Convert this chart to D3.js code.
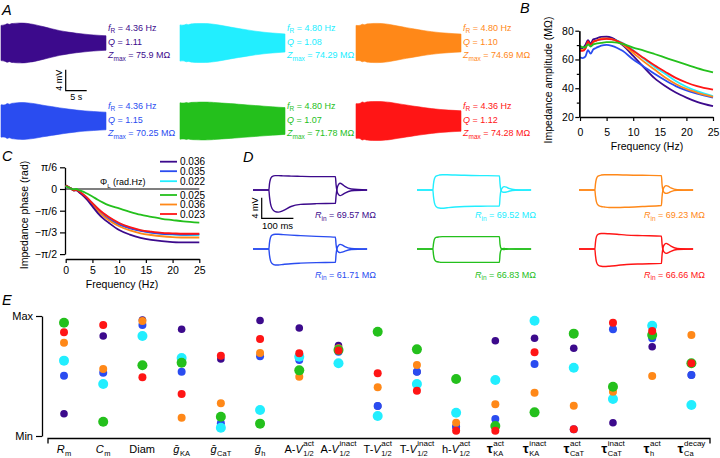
<!DOCTYPE html>
<html><head><meta charset="utf-8">
<script src="https://cdn.jsdelivr.net/npm/d3@7/dist/d3.min.js"></script>
<style>
html,body{margin:0;padding:0;background:#fff;}
svg{display:block;font-family:"Liberation Sans",Arial,Helvetica,sans-serif;}
</style></head><body>
<svg id="fig" width="720" height="458" viewBox="0 0 720 458"></svg>
<script>
// ===================== DATA =====================
const modelNames  = ["purple","cyan","orange","blue","green","red"];
const modelColors = ["#3c0a8c","#22eeff","#ff8818","#2a4cf0","#24c01c","#ff1515"];

// Panel A: resonance summary per model
const resFreq = ["4.36","4.80","4.80","4.36","4.80","4.36"];
const qFactor = ["1.11","1.08","1.10","1.15","1.07","1.12"];
const zMax    = ["75.9","74.29","74.69","70.25","71.78","74.28"];

// Panel B: impedance amplitude (MΩ) vs frequency (Hz)
const freqHz    = [0,0.5,1,1.5,2,2.5,3,4,5,6,7,8,10,12,14,16,18,20,22,25];
const ampPurple = [67,68,70,73.5,71,74,74.5,75.7,75.8,75,72.8,70,62.5,54.5,47,41.5,37,33.5,30.5,27.5];
const ampCyan   = [69,68,68.5,71.5,70,72,73,74,74.3,74.1,73.2,71.5,66.5,60.5,55,50,45,41,38,34.5];
const ampOrange = [67,66.5,67.5,71.5,69.5,72,73,74.4,74.7,74.2,72.8,70.5,64.5,58.5,53,47.5,43,39.5,37,34];
const ampBlue   = [61.5,61,62,66.5,64,67,68,69.7,70.2,69.5,68,66,60,55,50,45.5,41.5,38.5,36.2,33.5];
const ampGreen  = [69.5,68.5,68.5,70.5,69,70.5,71,71.5,72,72,71.7,70.8,68.3,66.2,63.8,61.3,58.8,56.4,54,51];
const ampRed    = [66,66,67.5,72.5,70,72.5,73,74,74.3,73.9,72.8,71.2,66,61,56,51.5,47.2,44,41.5,39];

// Panel C: impedance phase (rad) vs frequency (Hz)
const phasePurple = [0.08,0.05,0.01,-0.03,-0.03,-0.08,-0.13,-0.26,-0.42,-0.58,-0.71,-0.81,-0.99,-1.10,-1.18,-1.23,-1.26,-1.28,-1.29,-1.29];
const phaseCyan   = [0.07,0.04,0.01,-0.02,-0.02,-0.06,-0.10,-0.21,-0.34,-0.47,-0.59,-0.68,-0.83,-0.93,-1.00,-1.05,-1.08,-1.10,-1.11,-1.11];
const phaseOrange = [0.08,0.05,0.01,-0.03,-0.02,-0.07,-0.12,-0.25,-0.39,-0.53,-0.65,-0.75,-0.90,-1.00,-1.07,-1.11,-1.14,-1.16,-1.17,-1.17];
const phaseBlue   = [0.08,0.05,0.01,-0.03,-0.02,-0.07,-0.12,-0.24,-0.38,-0.52,-0.63,-0.72,-0.86,-0.95,-1.01,-1.05,-1.08,-1.09,-1.10,-1.09];
const phaseGreen  = [0.07,0.04,0.01,-0.01,0.00,-0.03,-0.05,-0.11,-0.18,-0.26,-0.33,-0.39,-0.47,-0.55,-0.62,-0.67,-0.72,-0.75,-0.78,-0.81];
const phaseRed    = [0.08,0.05,0.01,-0.03,-0.02,-0.06,-0.10,-0.21,-0.34,-0.47,-0.58,-0.67,-0.82,-0.92,-0.99,-1.03,-1.06,-1.07,-1.08,-1.08];
const phiL        = ["0.036","0.022","0.036","0.035","0.025","0.023"];   // per model
const phiLegendOrder = ["purple","blue","cyan","green","orange","red"];
const phaseTickLabels = ["π/6","0","−π/6","−π/3","−π/2"];

// Panel D: voltage responses (mV) to ± current steps, time in ms
const stepT      = [0,50,52,55,60,70,80,95,120,150,200,260,262,265,270,275,282,290,310,360];
const hypPurple  = [0,0,-1.3,-2.6,-3.6,-4.2,-4.3,-4.0,-3.2,-2.8,-2.65,-2.6,-1.2,0.2,1.1,1.3,1.1,0.7,0.2,0];
const depPurple  = [0,0,1.2,2.1,2.6,2.8,2.8,2.75,2.7,2.65,2.6,2.6,1.1,-0.2,-0.9,-1.1,-0.9,-0.6,-0.15,0];
const hypCyan    = [0,0,-1.3,-2.5,-3.2,-3.5,-3.55,-3.45,-3.3,-3.2,-3.15,-3.1,-1.4,-0.1,0.5,0.65,0.55,0.3,0.05,0];
const depCyan    = [0,0,1.2,2.2,2.7,2.9,2.95,2.95,2.9,2.85,2.8,2.75,1.2,0,-0.4,-0.45,-0.4,-0.25,-0.05,0];
const hypOrange  = [0,0,-1.2,-2.3,-2.9,-3.2,-3.3,-3.4,-3.4,-3.35,-3.2,-3.0,-1.3,0,0.7,0.85,0.7,0.4,0.05,0];
const depOrange  = [0,0,1.2,2.2,2.7,2.9,2.95,2.95,2.95,2.9,2.85,2.8,1.1,-0.1,-0.55,-0.65,-0.55,-0.3,-0.05,0];
const hypBlue    = [0,0,-1.2,-2.2,-2.8,-3.1,-3.1,-3.0,-2.85,-2.75,-2.65,-2.6,-1.1,0.1,0.7,0.9,0.75,0.45,0.1,0];
const depBlue    = [0,0,1.2,2.2,2.7,2.85,2.85,2.8,2.7,2.6,2.45,2.3,0.9,-0.2,-0.6,-0.7,-0.6,-0.4,-0.1,0];
const hypGreen   = [0,0,-1.1,-2.0,-2.4,-2.55,-2.6,-2.6,-2.6,-2.6,-2.6,-2.6,-1.0,-0.2,0.05,0.1,0.05,0.02,0,0];
const depGreen   = [0,0,1.0,1.9,2.25,2.35,2.4,2.4,2.4,2.4,2.4,2.4,0.9,0.15,-0.05,-0.1,-0.05,-0.02,0,0];
const hypRed     = [0,0,-1.3,-2.5,-3.1,-3.35,-3.4,-3.35,-3.2,-3.0,-2.9,-2.8,-1.2,0.2,0.9,1.1,0.9,0.55,0.1,0];
const depRed     = [0,0,1.3,2.4,2.85,3.0,3.0,2.95,2.85,2.7,2.6,2.5,1.0,-0.15,-0.7,-0.85,-0.7,-0.45,-0.1,0];
const inputRes   = ["69.57","69.52","69.23","61.71","66.83","66.66"];

// Panel E: normalized parameter values (0 = Min, 1 = Max)
const paramMain = ["R","C","Diam","ḡ","ḡ","ḡ","A-V","A-V","T-V","T-V","h-V","τ","τ","τ","τ","τ","τ"];
const paramSup  = ["","","","","","","act","inact","act","inact","act","act","inact","act","inact","act","decay"];
const paramSub  = ["m","m","","KA","CaT","h","1/2","1/2","1/2","1/2","1/2","KA","KA","CaT","CaT","h","Ca"];
const ePurple = [0.186,0.833,0.967,0.889,0.642,0.963,0.90,0.753,0.25,0.536,0.078,0.794,0.814,0.731,0.111,0.744,0.508];
const eCyan   = [0.628,0.433,0.833,0.65,0.069,0.217,0.661,0.606,0.167,0.433,0.194,0.467,0.961,0.569,0.308,0.919,0.258];
const eOrange = [0.778,0.558,0.958,0.153,0.272,0.692,0.494,0.731,0.406,0.592,0.111,0.264,0.361,0.253,0.369,0.50,0.842];
const eBlue   = [0.503,0.528,0.925,0.536,0.106,0.664,0.633,0.703,0.25,0.536,0.078,0.142,0.60,0.056,0.889,0.814,0.508];
const eGreen  = [0.944,0.119,0.589,0.611,0.161,0.103,0.547,0.717,0.869,0.722,0.475,0.083,0.197,0.853,0.411,0.842,0.606];
const eRed    = [0.864,0.925,0.489,0.35,0.669,0.808,0.689,0.713,0.522,0.378,0.044,0.044,0.697,0.056,0.944,0.875,0.606];

// ===================== RENDER =====================
const amps   = [ampPurple,ampCyan,ampOrange,ampBlue,ampGreen,ampRed];
const phases = [phasePurple,phaseCyan,phaseOrange,phaseBlue,phaseGreen,phaseRed];
const hyps   = [hypPurple,hypCyan,hypOrange,hypBlue,hypGreen,hypRed];
const deps   = [depPurple,depCyan,depOrange,depBlue,depGreen,depRed];
const evals  = [ePurple,eCyan,eOrange,eBlue,eGreen,eRed];

const svg = d3.select("#fig");

function rich(g, x, y, parts, fs, fill, anchor) {
  const t = g.append("text").attr("x", x).attr("y", y).attr("font-size", fs).attr("fill", fill || "#000");
  if (anchor) t.attr("text-anchor", anchor);
  let shift = 0;
  parts.forEach(p => {
    const s = t.append("tspan").text(p.t);
    const target = p.sub || 0;
    s.attr("dy", target - shift); shift = target;
    if (p.i) s.attr("font-style", "italic");
    if (p.fs) s.attr("font-size", p.fs);
  });
  return t;
}
function panelLetter(l, x, y) {
  svg.append("text").attr("x", x).attr("y", y).attr("font-size", 14.5).attr("font-style", "italic").text(l);
}

// ---------- Panel A ----------
panelLetter("A", 2, 15);
const aCols = [1, 180, 356], aW = 105;
const aRows = [43, 121];
const zapCurrent = 0.05; // nA
const aT = d3.scaleLinear().domain([0, 25]).range([0, aW]);       // linear chirp: t (s) = f (Hz)
const aV = d3.scaleLinear().domain([-4, 4]).range([21, -21]);      // mV
const aTextBase = [[30.5, 45, 58], [108.5, 123, 136]];
modelNames.forEach((m, i) => {
  const c = i % 3, r = Math.floor(i / 3);
  const g = svg.append("g").attr("transform", `translate(${aCols[c]},${aRows[r]})`);
  const area = d3.area()
    .x((d, j) => aT(freqHz[j]))
    .y0(d => aV(-d * zapCurrent))
    .y1(d => aV(d * zapCurrent))
    .curve(d3.curveMonotoneX);
  g.append("path").attr("d", area(amps[i])).attr("fill", modelColors[i]).attr("stroke", modelColors[i]).attr("stroke-width", 0.6);
  const tx = aCols[c] + aW + 2, yb = aTextBase[r];
  rich(svg, tx, yb[0], [{t: "f", i: 1}, {t: "R", sub: 2.5, fs: 6.5}, {t: " = " + resFreq[i] + " Hz"}], 9, modelColors[i]);
  rich(svg, tx, yb[1], [{t: "Q", i: 1}, {t: " = " + qFactor[i]}], 9, modelColors[i]);
  rich(svg, tx, yb[2], [{t: "Z", i: 1}, {t: "max", sub: 2.5, fs: 6.5}, {t: " = " + zMax[i] + " MΩ"}], 9, modelColors[i]);
});
// scale bar A
{
  const sx = 65.7, sy = 90.7;
  svg.append("path").attr("d", `M${sx},${sy + aV(4) - aV(0)}V${sy}H${sx + aT(5)}`).attr("fill", "none").attr("stroke", "#000").attr("stroke-width", 1.2);
  svg.append("text").attr("transform", `translate(${sx - 4},${sy - 10.5}) rotate(-90)`).attr("text-anchor", "middle").attr("font-size", 9).text("4 mV");
  svg.append("text").attr("x", sx + aT(5) / 2).attr("y", sy + 9.5).attr("text-anchor", "middle").attr("font-size", 9).text("5 s");
}

// ---------- Panel B ----------
panelLetter("B", 520, 13);
const bx = d3.scaleLinear().domain([0, 25]).range([580, 713]);
const by = d3.scaleLinear().domain([20, 80]).range([117, 30.7]);
const gB = svg.append("g");
const bLine = d3.line().x((d, j) => bx(freqHz[j])).y(d => by(d)).curve(d3.curveMonotoneX);
["cyan", "purple", "blue", "orange", "red", "green"].forEach(n => {
  const i = modelNames.indexOf(n);
  gB.append("path").attr("d", bLine(amps[i])).attr("fill", "none").attr("stroke", modelColors[i]).attr("stroke-width", 1.8);
});
const bYAxis = svg.append("g").attr("transform", "translate(579.3,0)")
  .call(d3.axisLeft(by).tickValues([20, 40, 60, 80]).tickSize(4).tickSizeOuter(0).tickPadding(1.5));
svg.append("g").attr("transform", "translate(579.3,0)")
  .call(d3.axisLeft(by).tickValues([30, 50, 70]).tickSize(2.5).tickSizeOuter(0).tickFormat(""));
const bXAxis = svg.append("g").attr("transform", "translate(0,117)")
  .call(d3.axisBottom(bx).tickValues([0, 5, 10, 15, 20, 25]).tickSize(4).tickSizeOuter(0).tickPadding(8));
svg.append("text").attr("x", 647).attr("y", 150).attr("text-anchor", "middle").attr("font-size", 10.5).text("Frequency (Hz)");
svg.append("text").attr("transform", "translate(551.5,80) rotate(-90)").attr("text-anchor", "middle").attr("font-size", 10.5).text("Impedance amplitude (MΩ)");

// ---------- Panel C ----------
panelLetter("C", 2, 161);
const cx = d3.scaleLinear().domain([0, 25]).range([65.7, 199.3]);
const cy = d3.scaleLinear().domain([-Math.PI / 2, Math.PI / 6]).range([254.1, 167.3]);
const cYAxis = svg.append("g").attr("transform", "translate(65,0)")
  .call(d3.axisLeft(cy).tickValues([Math.PI / 6, 0, -Math.PI / 6, -Math.PI / 3, -Math.PI / 2])
    .tickFormat((d, k) => phaseTickLabels[k]).tickSize(5).tickSizeOuter(0).tickPadding(3));
svg.append("line").attr("x1", 65).attr("x2", cx(25)).attr("y1", cy(0)).attr("y2", cy(0)).attr("stroke", "#000").attr("stroke-width", 1.2);
const cXAxis = svg.append("g").attr("transform", "translate(0,259)")
  .call(d3.axisBottom(cx).tickValues([0, 5, 10, 15, 20, 25]).tickSize(4).tickSizeOuter(0).tickPadding(4));
const cLine = d3.line().x((d, j) => cx(freqHz[j])).y(d => cy(d)).curve(d3.curveMonotoneX);
["cyan", "blue", "orange", "purple", "red", "green"].forEach(n => {
  const i = modelNames.indexOf(n);
  svg.append("path").attr("d", cLine(phases[i])).attr("fill", "none").attr("stroke", modelColors[i]).attr("stroke-width", 1.8);
});
svg.append("text").attr("x", 122).attr("y", 288).attr("text-anchor", "middle").attr("font-size", 10.5).text("Frequency (Hz)");
svg.append("text").attr("transform", "translate(27.5,215) rotate(-90)").attr("text-anchor", "middle").attr("font-size", 10.5).text("Impedance phase (rad)");
rich(svg, 100, 185, [{t: "Φ"}, {t: "L", sub: 2.5, fs: 6}, {t: "  (rad.Hz)", sub: 0}], 9, "#000");
const legY = [161.7, 171.2, 181.2, 195, 204.5, 214];
phiLegendOrder.forEach((n, k) => {
  const i = modelNames.indexOf(n);
  svg.append("line").attr("x1", 160).attr("x2", 177).attr("y1", legY[k]).attr("y2", legY[k]).attr("stroke", modelColors[i]).attr("stroke-width", 1.8);
  svg.append("text").attr("x", 180).attr("y", legY[k]).attr("dy", "0.35em").attr("font-size", 10).text(phiL[i]);
});

// ---------- Panel D ----------
panelLetter("D", 243, 162);
const dCols = [253, 417, 579], dRows = [190, 249];
const dT = d3.scaleLinear().domain([0, 360]).range([0, 114.1]);
const dV = d3.scaleLinear().domain([-4, 4]).range([20.6, -20.6]);
const dLine = d3.line().x((d, j) => dT(stepT[j])).y(d => dV(d)).curve(d3.curveMonotoneX);
const rinX = [315, 475, 644], rinY = [218, 277.5];
modelNames.forEach((m, i) => {
  const c = i % 3, r = Math.floor(i / 3);
  const g = svg.append("g").attr("transform", `translate(${dCols[c]},${dRows[r]})`);
  [hyps[i], deps[i]].forEach(arr => {
    g.append("path").attr("d", dLine(arr)).attr("fill", "none").attr("stroke", modelColors[i]).attr("stroke-width", 1.4);
  });
  rich(svg, rinX[c], rinY[r], [{t: "R", i: 1}, {t: "in", sub: 2.5, fs: 6.5}, {t: " = " + inputRes[i] + " MΩ"}], 9, modelColors[i]);
});
{
  const sx = 261.7, sy = 218.3;
  svg.append("path").attr("d", `M${sx},${sy + dV(4) - dV(0)}V${sy}H${sx + dT(100)}`).attr("fill", "none").attr("stroke", "#000").attr("stroke-width", 1.2);
  svg.append("text").attr("transform", `translate(${sx - 3.5},${sy - 10.3}) rotate(-90)`).attr("text-anchor", "middle").attr("font-size", 9).text("4 mV");
  svg.append("text").attr("x", sx + dT(100) / 2).attr("y", sy + 11).attr("text-anchor", "middle").attr("font-size", 9.5).text("100 ms");
}

// ---------- Panel E ----------
panelLetter("E", 2, 305);
const ex = d3.scalePoint().domain(d3.range(paramMain.length)).range([64, 691.4]);
const ey = d3.scaleLinear().domain([0, 1]).range([436, 316]);
const eYAxis = svg.append("g").attr("transform", "translate(42,0)")
  .call(d3.axisLeft(ey).tickValues([0, 1]).tickFormat(d => d ? "Max" : "Min").tickSize(6).tickSizeOuter(0).tickPadding(3));
eYAxis.selectAll("text").attr("font-size", 11);
svg.append("path").attr("d", "M48,443.5V438.5H710V443.5").attr("fill", "none").attr("stroke", "#000").attr("stroke-width", 1.3);
const dotR = {purple: 3.8, blue: 4, cyan: 5, orange: 4, green: 5, red: 4};
["purple", "blue", "cyan", "orange", "green", "red"].forEach(n => {
  const i = modelNames.indexOf(n);
  svg.append("g").selectAll("circle").data(evals[i]).join("circle")
    .attr("cx", (d, k) => ex(k)).attr("cy", d => ey(d)).attr("r", dotR[n]).attr("fill", modelColors[i]);
});
// category labels
const eBase = 453.2;
paramMain.forEach((m, k) => {
  const grp = svg.append("g");
  const t = grp.append("text").attr("x", 0).attr("y", eBase).attr("font-size", 11);
  if (m.endsWith("-V")) {
    t.append("tspan").text(m.slice(0, 2));
    t.append("tspan").attr("font-style", "italic").text("V");
  } else if (m === "τ") {
    t.append("tspan").attr("font-size", 13.5).attr("font-weight", "bold").text(m);
  } else if (m === "Diam") {
    t.append("tspan").text(m);
  } else {
    t.append("tspan").attr("font-style", "italic").text(m);
  }
  const w = t.node().getComputedTextLength();
  let w2 = 0;
  if (paramSup[k]) {
    const s = grp.append("text").attr("x", w + 0.5).attr("y", eBase - 7).attr("font-size", 8).text(paramSup[k]);
    w2 = Math.max(w2, s.node().getComputedTextLength());
  }
  if (paramSub[k]) {
    const s = grp.append("text").attr("x", w + 0.5).attr("y", eBase + 3).attr("font-size", paramSup[k] ? 7.5 : 7.5).text(paramSub[k]);
    w2 = Math.max(w2, s.node().getComputedTextLength());
  }
  grp.attr("transform", `translate(${ex(k) - (w + 0.5 + w2) / 2},0)`);
});

// axis styling
svg.selectAll(".domain").attr("stroke", "#000").attr("stroke-width", 1.3);
svg.selectAll(".tick line").attr("stroke", "#000").attr("stroke-width", 1.2);
[bYAxis, bXAxis, cYAxis, cXAxis].forEach(a => a.selectAll("text").attr("font-size", 10.5).attr("font-family", '"Liberation Sans",Arial,sans-serif'));
eYAxis.selectAll("text").attr("font-family", '"Liberation Sans",Arial,sans-serif');
</script>
</body></html>
